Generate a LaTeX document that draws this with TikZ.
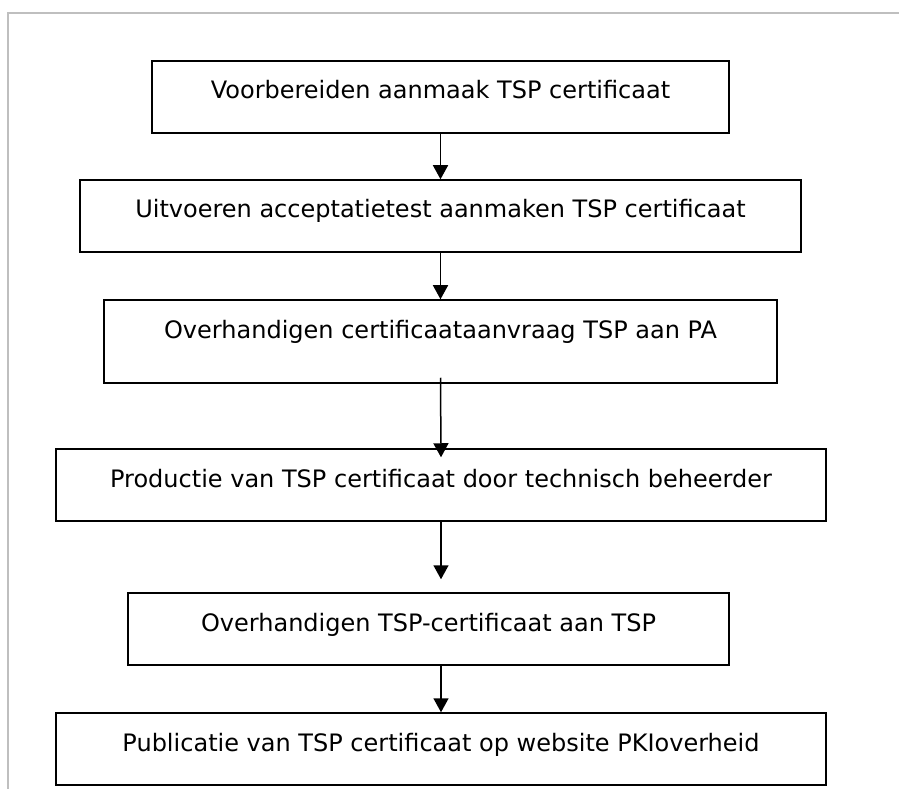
\documentclass[tikz,border=0pt]{standalone}
\usepackage{fontspec}
\setmainfont{DejaVu Sans}
\usetikzlibrary{arrows.meta}

\begin{document}
\begin{tikzpicture}[x=1pt, y=-1pt,
    every node/.style = {shape=rectangle, draw, line width=1.5pt,
      align=center, inner xsep=0pt, inner ysep=0pt,
      text height=38pt, text depth=34pt,
      font=\fontsize{24}{28}\selectfont},
    flow/.style = {-{Triangle[width=15pt,length=14pt]}, line width=1.5pt}]
    \useasboundingbox (0,0) rectangle (899,799);
    % cell border
    \draw[line width=1.3pt, color=black!25] (899,13) -- (8,13) -- (8,789);

    \node[minimum width=577pt] (prep) at (440.5,97) {Voorbereiden aanmaak TSP certificaat};
    \node[minimum width=721pt] (test) at (440.5,216) {Uitvoeren acceptatietest aanmaken TSP certificaat};
    \node[minimum width=673pt, text depth=45pt] (aanvraag) at (440.5,341.5) {Overhandigen certificaataanvraag TSP aan PA};
    \node[minimum width=770pt] (productie) at (441,485) {Productie van TSP certificaat door technisch beheerder};
    \node[minimum width=601pt] (overdracht) at (428.5,629) {Overhandigen TSP-certificaat aan TSP};
    \node[minimum width=770pt] (publicatie) at (441,749) {Publicatie van TSP certificaat op website PKIoverheid};

    \draw[flow] (prep.south) -- (test.north);
    \draw[flow] (test.south) -- (aanvraag.north);
    \draw[flow] ([yshift=6pt]aanvraag.south) -- ([yshift=-9pt]productie.north);
    \draw[flow] (productie.south) -- ([yshift=13pt]productie.south |- overdracht.north);
    \draw[flow] (overdracht.south -| productie.south) -- (publicatie.north);
\end{tikzpicture}
\end{document}
